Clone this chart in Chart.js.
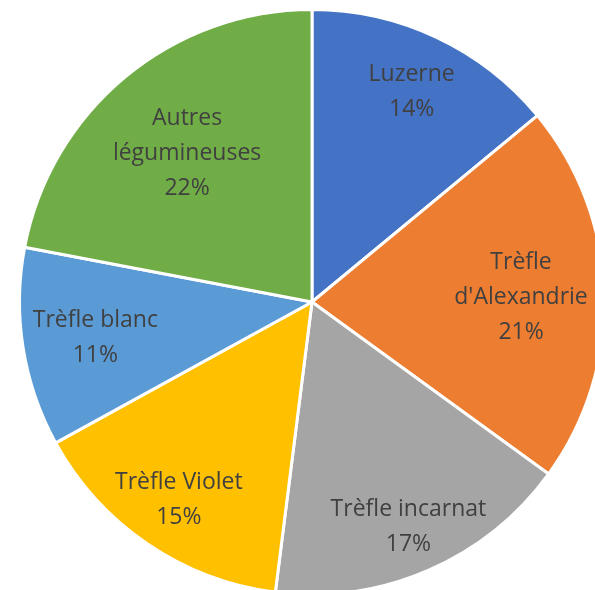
<!DOCTYPE html>
<html>
<head>
<meta charset="utf-8">
<script src="https://cdn.jsdelivr.net/npm/chart.js@4"></script>
<style>
  html, body {
    margin: 0;
    padding: 0;
    width: 595px;
    height: 590px;
    overflow: hidden;
    background: #ffffff;
  }
  #wrap {
    position: absolute;
    left: 12px;
    top: 2px;
    width: 600px;
    height: 600px;
  }
</style>
</head>
<body>
<div id="wrap"><canvas id="pie"></canvas></div>
<script>
// categories and shares (%)
const categories = [
  "Luzerne",
  "Trèfle d'Alexandrie",
  "Trèfle incarnat",
  "Trèfle Violet",
  "Trèfle blanc",
  "Autres légumineuses",
];
const shares = [14, 21, 17, 15, 11, 22];

// how each label is wrapped inside its slice
const labelLines = [
  ["Luzerne"],
  ["Trèfle", "d'Alexandrie"],
  ["Trèfle incarnat"],
  ["Trèfle Violet"],
  ["Trèfle blanc"],
  ["Autres", "légumineuses"],
];

const sliceColors = ["#4472C4", "#ED7D31", "#A5A5A5", "#FFC000", "#5B9BD5", "#70AD47"];
// distance of each label from the centre, as a fraction of the radius
const labelRadius = [0.8, 0.715, 0.83, 0.81, 0.75, 0.67];

const sliceLabels = {
  id: "sliceLabels",
  afterDatasetsDraw(chart) {
    const ctx = chart.ctx;
    const meta = chart.getDatasetMeta(0);
    ctx.save();
    ctx.font = "23px 'Open Sans'";
    ctx.fillStyle = "#404040";
    ctx.textAlign = "center";
    ctx.textBaseline = "middle";
    const lineH = 35;
    meta.data.forEach((arc, i) => {
      const mid = (arc.startAngle + arc.endAngle) / 2;
      const r = arc.outerRadius * labelRadius[i];
      const x = arc.x + Math.cos(mid) * r;
      const y = arc.y + Math.sin(mid) * r + 2;
      const lines = labelLines[i].concat([shares[i] + "%"]);
      const top = y - ((lines.length - 1) * lineH) / 2;
      lines.forEach((txt, k) => ctx.fillText(txt, x, top + k * lineH));
    });
    ctx.restore();
  },
};

new Chart(document.getElementById("pie"), {
  type: "pie",
  data: {
    labels: categories,
    datasets: [
      {
        data: shares,
        backgroundColor: sliceColors,
        borderColor: "#ffffff",
        borderWidth: 3,
      },
    ],
  },
  options: {
    responsive: true,
    maintainAspectRatio: false,
    animation: false,
    layout: { padding: 6 },
    plugins: {
      legend: { display: false },
      tooltip: { enabled: false },
    },
  },
  plugins: [sliceLabels],
});
</script>
</body>
</html>
